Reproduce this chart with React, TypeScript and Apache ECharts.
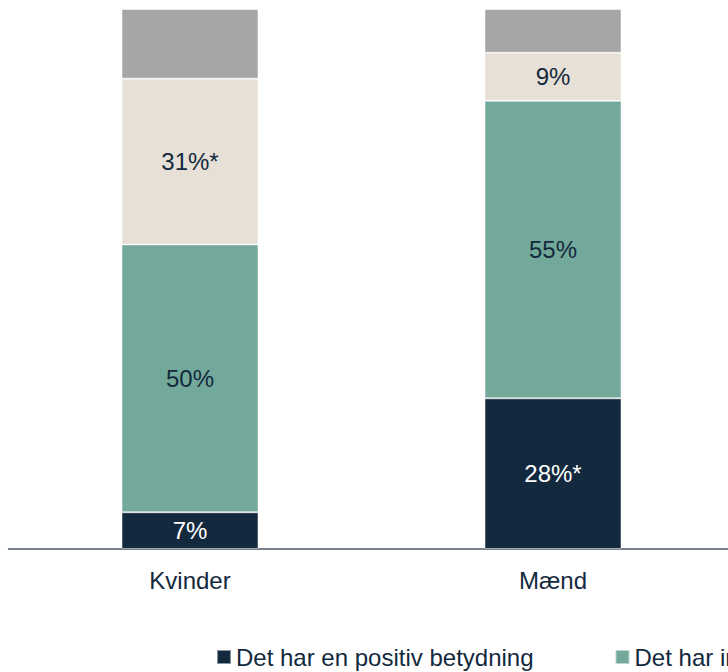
import React, { useEffect, useRef } from "react";
import * as echarts from "echarts";

const categories = ["Kvinder", "Mænd"];
const seriesNames = [
  "Det har en positiv betydning",
  "Det har ingen betydning",
  "Det har en negativ betydning",
  "Ved ikke",
];
const positive = [6.8, 27.9];
const none = [49.6, 55.1];
const negative = [30.7, 8.9];
const unknown = [12.9, 8.1];
const positiveLabels = ["7%", "28%*"];
const noneLabels = ["50%", "55%"];
const negativeLabels = ["31%*", "9%"];
const unknownLabels = ["", ""];

const colors = ["#13293d", "#73a99b", "#e6e0d6", "#a6a6a6"];
const textColor = "#13293d";
const font = "'Liberation Sans', Arial, sans-serif";

export default function App() {
  const ref = useRef<HTMLDivElement>(null);
  useEffect(() => {
    document.body.style.margin = "0";
    const chart = echarts.init(ref.current!, null, { renderer: "svg" });
    const values = [positive, none, negative, unknown];
    const labels = [positiveLabels, noneLabels, negativeLabels, unknownLabels];
    const labelColors = ["#ffffff", textColor, textColor, textColor];
    chart.setOption({
      animation: false,
      textStyle: { fontFamily: font },
      grid: { left: 8.5, width: 726, top: 9, bottom: 123, containLabel: false },
      legend: {
        left: 211,
        top: 640,
        icon: "rect",
        itemWidth: 14,
        itemHeight: 14,
        itemGap: 81,
        textStyle: { fontSize: 24, color: textColor, fontFamily: font },
        data: seriesNames,
      },
      xAxis: {
        type: "category",
        data: categories,
        axisLine: { show: true, lineStyle: { color: "#4a5866", width: 1.5 } },
        axisTick: { show: false },
        axisLabel: { fontSize: 24, color: textColor, margin: 19, fontFamily: font },
      },
      yAxis: {
        type: "value",
        min: 0,
        max: 100,
        show: false,
        splitLine: { show: false },
      },
      series: seriesNames.map((name, i) => ({
        name,
        type: "bar",
        stack: "total",
        barWidth: 137,
        itemStyle: {
          color: colors[i],
          borderColor: "rgba(255,255,255,0.5)",
          borderWidth: 1,
        },
        label: {
          show: true,
          position: "inside",
          fontSize: 24,
          color: labelColors[i],
          fontFamily: font,
          formatter: (p: any) => labels[i][p.dataIndex],
        },
        data: values[i],
      })),
    });
    return () => chart.dispose();
  }, []);
  return (
    <div style={{ width: 728, height: 672, overflow: "hidden", position: "relative" }}>
      <div ref={ref} style={{ width: 1700, height: 672 }} />
    </div>
  );
}
